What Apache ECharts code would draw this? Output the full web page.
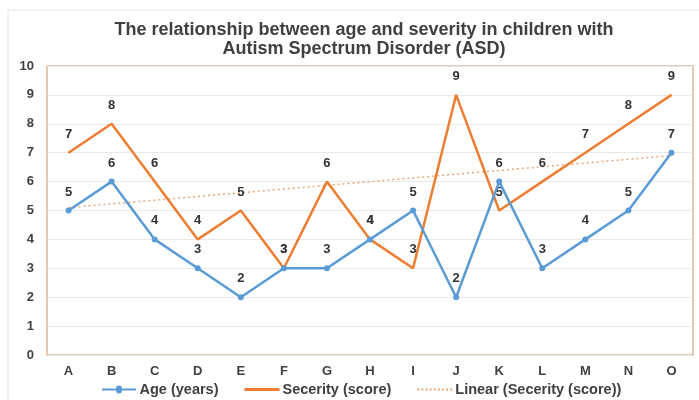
<!DOCTYPE html>
<html><head><meta charset="utf-8">
<script src="https://cdn.jsdelivr.net/npm/echarts@6/dist/echarts.min.js"></script>
<style>html,body{margin:0;padding:0;background:#fff}#c{width:699px;height:400px}</style>
</head><body><div id="c"></div>
<script>
const categories = ['A','B','C','D','E','F','G','H','I','J','K','L','M','N','O'];
const ageYears = [5,6,4,3,2,3,3,4,5,2,6,3,4,5,7];
const severityScore = [7,8,6,4,5,3,6,4,3,9,5,6,7,8,9];
const trendEnds = [5.1, 6.9];
const yTicks = [0,1,2,3,4,5,6,7,8,9,10];

const chart = echarts.init(document.getElementById('c'));
const font = 'Liberation Sans, Arial, sans-serif';
const labelBase = {show:true, position:'top', fontFamily:font, fontWeight:'bold', fontSize:13, color:'#333'};
let dots = '';
for (let i = 0; i < 9; i++) { const x = i*4; dots += 'M' + x + ',0L' + (x+2) + ',0L' + (x+2) + ',2L' + x + ',2Z'; }
chart.setOption({
  animation:false,
  backgroundColor:'#fff',
  graphic:[{type:'rect', shape:{x:8,y:10,width:700,height:400}, style:{fill:'none', stroke:'#e6e6e6', lineWidth:1}, silent:true}],
  title:{text:'The relationship between age and severity in children with\nAutism Spectrum Disorder (ASD)', left:359, textAlign:'center', top:16,
    textStyle:{fontFamily:font, fontSize:18, fontWeight:'bold', color:'#404040', lineHeight:19}},
  grid:{left:47, right:6, top:66, bottom:45, show:true, borderColor:'#d9b896', borderWidth:1.5},
  legend:{bottom:-2, left:97, itemGap:26, itemWidth:35, itemHeight:8, textStyle:{fontFamily:font, fontSize:14.5, fontWeight:'bold', color:'#404040', padding:[0,0,0,-2]},
    data:[{name:'Age (years)', icon:'path://M0,3L14,3A3,3 0 1 1 20,3L34,3L34,5L20,5A3,3 0 1 1 14,5L0,5Z', itemStyle:{color:'#5b9bd5'}},
          {name:'Secerity (score)', icon:'path://M0,0L34,0L34,3L0,3Z', itemHeight:3, itemStyle:{color:'#ed7d31'}},
          {name:'Linear (Secerity (score))', icon:'path://' + dots, itemHeight:2, itemStyle:{color:'#e8a676'}}]},
  xAxis:{type:'category', data:categories, boundaryGap:true,
    axisLine:{show:false}, axisTick:{show:false},
    axisLabel:{fontFamily:font, fontSize:13, fontWeight:'bold', color:'#404040', margin:10}},
  yAxis:{type:'value', min:yTicks[0], max:yTicks[yTicks.length-1], interval:1,
    axisLine:{show:false}, axisTick:{show:false},
    splitLine:{lineStyle:{color:'#e8e8e8'}},
    axisLabel:{fontFamily:font, fontSize:13, fontWeight:'bold', color:'#404040', margin:13}},
  series:[
    {name:'Age (years)', type:'line', data:ageYears, symbol:'circle', symbolSize:6, z:3,
      itemStyle:{color:'#5b9bd5'}, lineStyle:{color:'#5b9bd5', width:2.5}, label:Object.assign({distance:9}, labelBase)},
    {name:'Secerity (score)', type:'line', data:severityScore, symbol:'circle', symbolSize:1, z:2,
      itemStyle:{color:'#ed7d31'}, lineStyle:{color:'#ed7d31', width:2.5}, label:Object.assign({distance:11.5}, labelBase)},
    {name:'Linear (Secerity (score))', type:'line', data:[[categories[0],trendEnds[0]],[categories[categories.length-1],trendEnds[1]]],
      symbol:'none', z:1, itemStyle:{color:'#e8a676'}, lineStyle:{color:'#e8a676', width:1.5, type:[2,3]}}
  ]
});
</script></body></html>
